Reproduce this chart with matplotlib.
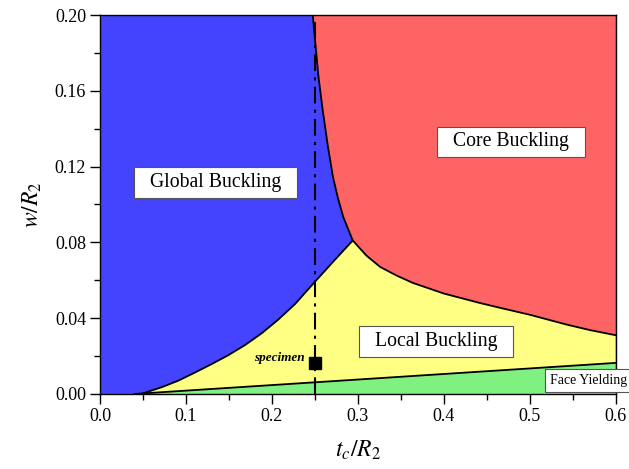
import matplotlib
matplotlib.use("Agg")
import matplotlib.pyplot as plt
import numpy as np

plt.rcParams["font.family"] = ["Liberation Serif", "DejaVu Serif"]
plt.rcParams["mathtext.fontset"] = "stix"

# boundary curves (t_c/R2, w/R2)
global_local_t = [0.048, 0.072, 0.091, 0.110, 0.130, 0.149, 0.169, 0.188, 0.207, 0.227, 0.250, 0.272, 0.294]
global_local_w = [0.000, 0.0036, 0.0070, 0.0112, 0.0158, 0.0204, 0.0259, 0.0320, 0.0391, 0.0475, 0.0592, 0.0702, 0.081]

global_core_t = [0.2475, 0.254, 0.259, 0.265, 0.271, 0.277, 0.283, 0.294]
global_core_w = [0.200, 0.168, 0.150, 0.131, 0.1145, 0.103, 0.0934, 0.081]

core_local_t = [0.294, 0.310, 0.326, 0.345, 0.364, 0.400, 0.442, 0.465, 0.500, 0.543, 0.570, 0.600]
core_local_w = [0.081, 0.073, 0.067, 0.0625, 0.0586, 0.053, 0.048, 0.0455, 0.0418, 0.0366, 0.0337, 0.031]

face_t = [0.040, 0.600]
face_w = [0.000, 0.0164]

specimen_t = 0.25
specimen_w = 0.0162

labels = ["Global Buckling", "Core Buckling", "Local Buckling"]
label_pos = [(0.134, 0.1116), (0.478, 0.1330), (0.391, 0.0277)]
face_label = "Face Yielding"
face_label_pos = (0.568, 0.0071)

c_blue = "#4444ff"
c_red = "#ff6464"
c_yellow = "#ffff84"
c_green = "#80f080"

fig = plt.figure(figsize=(6.29, 4.69), dpi=100)
ax = fig.add_axes([0.159, 0.160, 0.820, 0.808])
ax.set_facecolor(c_blue)
ax.set_xlim(0, 0.6)
ax.set_ylim(0, 0.2)

# core buckling region
red_t = global_core_t + core_local_t[1:] + [0.6, 0.6, global_core_t[0]]
red_w = global_core_w + core_local_w[1:] + [0.2, 0.2, 0.2]
ax.fill(red_t, red_w, color=c_red, lw=0)

# local buckling region
yel_t = global_local_t + core_local_t[1:] + face_t[::-1]
yel_w = global_local_w + core_local_w[1:] + face_w[::-1]
ax.fill(yel_t, yel_w, color=c_yellow, lw=0)

# face yielding region
ax.fill(face_t + [0.6, 0.04], face_w + [0.0, 0.0], color=c_green, lw=0)

for t, w in [(global_local_t, global_local_w), (global_core_t, global_core_w),
             (core_local_t, core_local_w), (face_t, face_w)]:
    ax.plot(t, w, color="black", lw=1.3, solid_joinstyle="round")

ax.axvline(specimen_t, color="black", lw=1.5, ls=(0, (8, 3, 1.5, 3)))
ax.plot(specimen_t, specimen_w, marker="s", ms=8, color="black", ls="none")
ax.text(0.2385, 0.0188, "specimen", ha="right", va="center",
        fontsize=9.5, fontweight="bold", fontstyle="italic")

box = dict(boxstyle="square,pad=0.3", facecolor="white", edgecolor="#555555", lw=0.8)
for txt, (x, y) in zip(labels, label_pos):
    ax.text(x, y, "  " + txt + "  ", ha="center", va="center", fontsize=14.2,
            bbox=box, zorder=5)
ax.text(face_label_pos[0], face_label_pos[1], face_label, ha="center", va="center",
        fontsize=10, clip_on=False, zorder=5,
        bbox=dict(boxstyle="square,pad=0.35", facecolor="white", edgecolor="#555555", lw=0.8))

ax.set_xticks(np.arange(0, 0.61, 0.1))
ax.set_xticks(np.arange(0.05, 0.6, 0.1), minor=True)
ax.set_yticks(np.arange(0, 0.201, 0.04))
ax.set_yticks(np.arange(0.02, 0.2, 0.04), minor=True)
ax.xaxis.set_major_formatter(matplotlib.ticker.FormatStrFormatter("%.1f"))
ax.yaxis.set_major_formatter(matplotlib.ticker.FormatStrFormatter("%.2f"))
ax.tick_params(which="both", direction="out", labelsize=13, top=False, right=False)
ax.tick_params(which="major", length=7, width=1, pad=3)
ax.tick_params(which="minor", length=4, width=1)
for s in ax.spines.values():
    s.set_linewidth(1.0)

ax.set_xlabel(r"$t_c/R_2$", fontsize=17, labelpad=10)
ax.set_ylabel(r"$w/R_2$", fontsize=17, labelpad=8)

fig.savefig("out.png", dpi=100)
